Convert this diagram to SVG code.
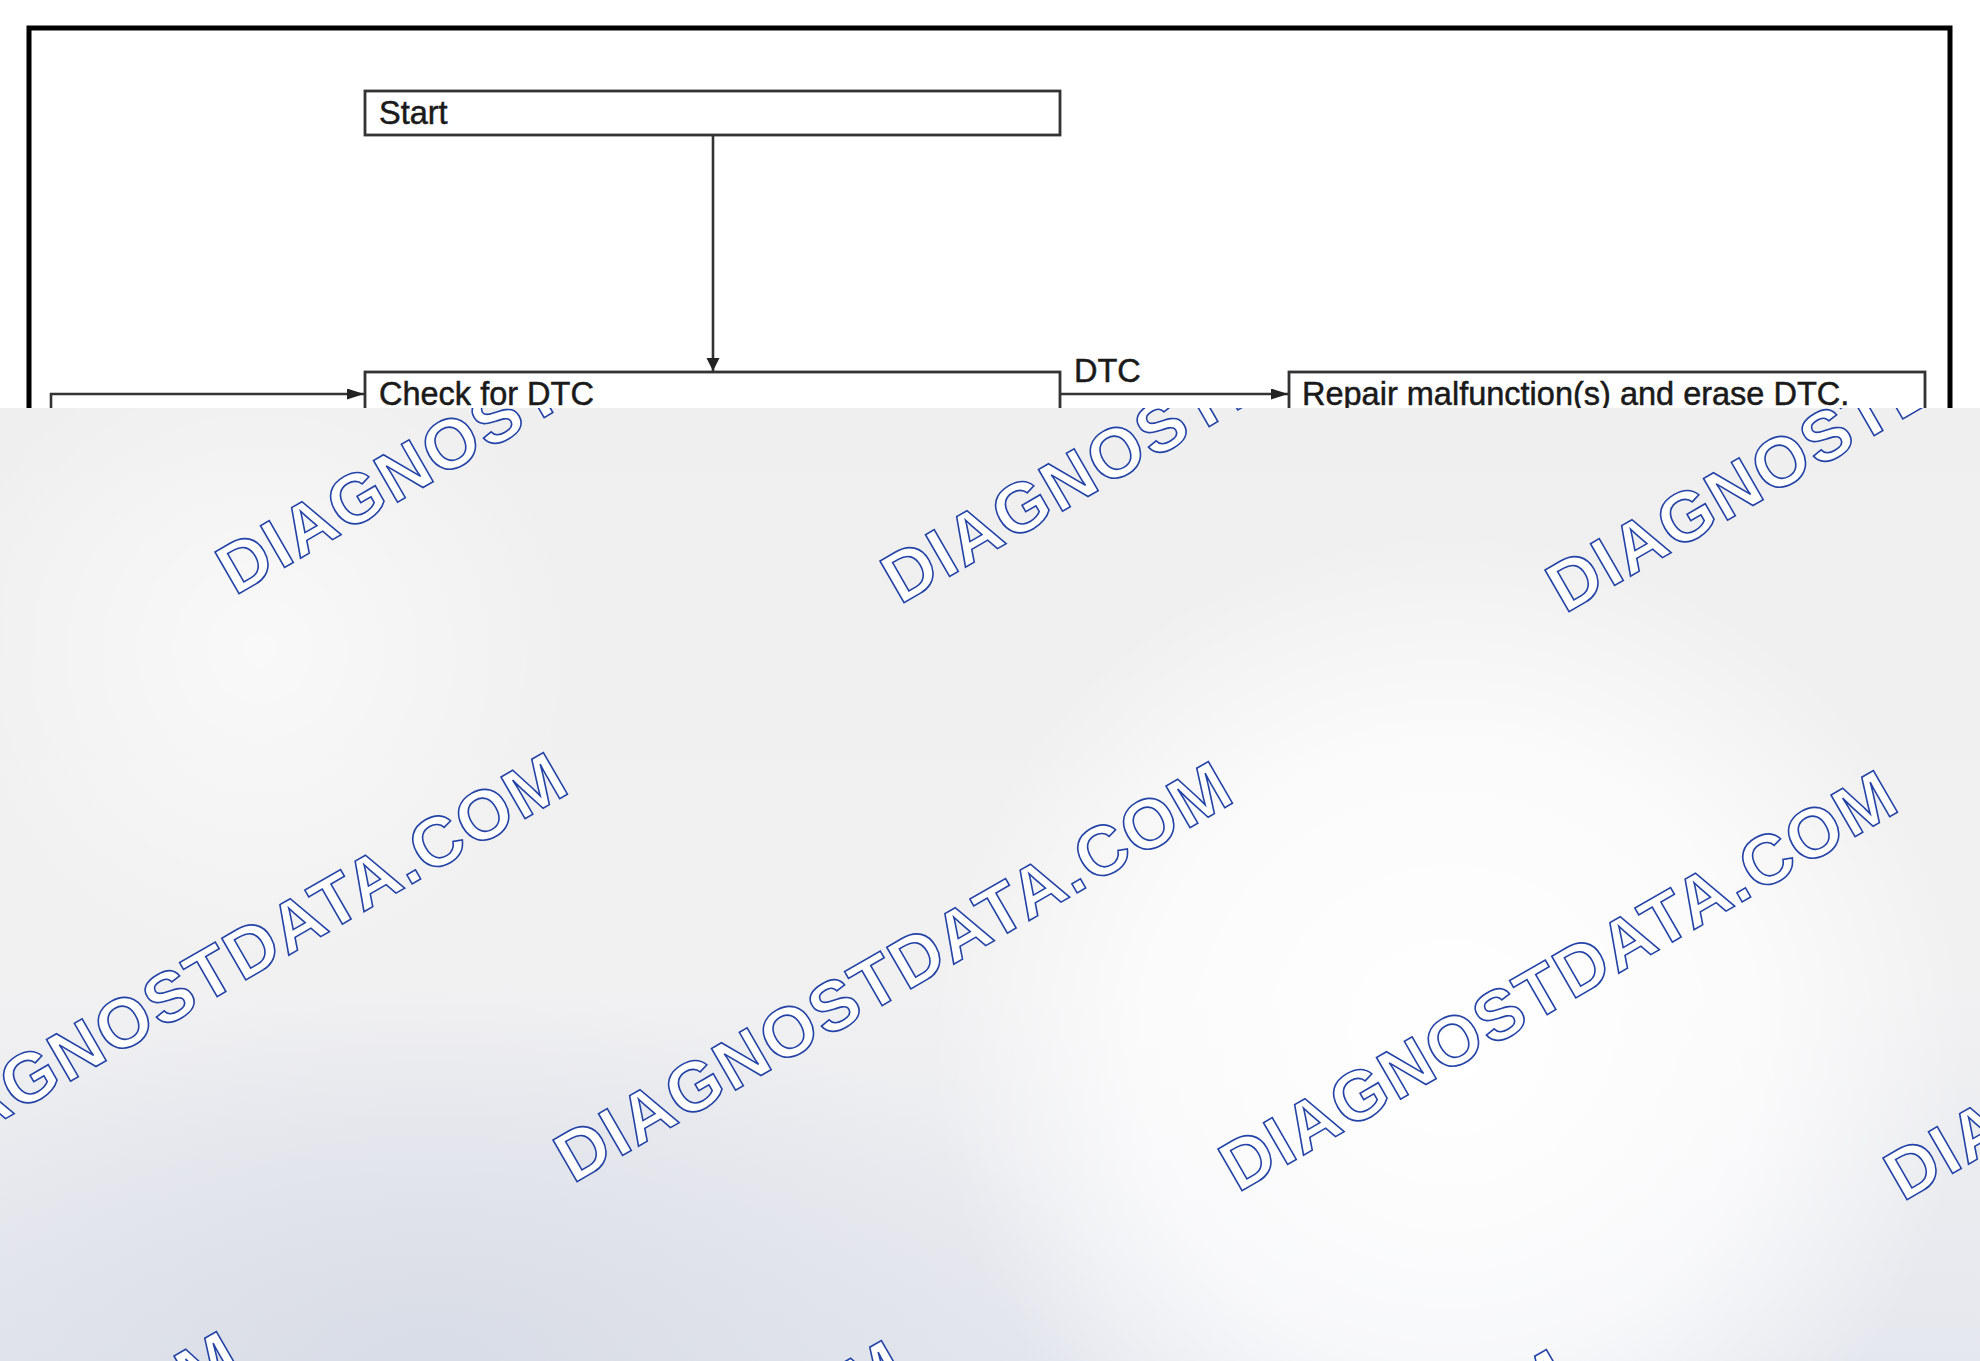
<svg xmlns="http://www.w3.org/2000/svg" width="1980" height="1361" viewBox="0 0 1980 1361">
  <defs>
    <style>
      .box { fill: #ffffff; stroke: #333333; stroke-width: 2.8; }
      .lbl { font-family: "Liberation Sans", Arial, sans-serif; font-size: 32.5px; fill: #1a1a1a; stroke: #1a1a1a; stroke-width: 0.5; }
      .conn { fill: none; stroke: #333333; stroke-width: 2.6; }
      .wm { font-family: "Liberation Sans", Arial, sans-serif; font-weight: bold; font-size: 70px; letter-spacing: 2px; fill: #ffffff; stroke: #2443a6; stroke-width: 1.6; }
    </style>
    <marker id="arrowV" viewBox="0 0 13 22" refX="13" refY="11" markerWidth="13" markerHeight="22" markerUnits="userSpaceOnUse" orient="auto">
      <path d="M0,4.5 L13,11 L0,17.5 Z" fill="#222222"/>
    </marker>
    <marker id="arrowH" viewBox="0 0 17 11" refX="17" refY="5.5" markerWidth="17" markerHeight="11" markerUnits="userSpaceOnUse" orient="auto">
      <path d="M0,0 L17,5.5 L0,11 Z" fill="#222222"/>
    </marker>
    <linearGradient id="bgLin" x1="0" y1="0" x2="0" y2="1">
      <stop offset="0" stop-color="#efefef"/>
      <stop offset="0.6" stop-color="#f1f1f2"/>
      <stop offset="1" stop-color="#e4e7ed"/>
    </linearGradient>
    <radialGradient id="whiteR" cx="1450" cy="1050" r="520" gradientUnits="userSpaceOnUse">
      <stop offset="0" stop-color="#ffffff" stop-opacity="1"/>
      <stop offset="0.6" stop-color="#ffffff" stop-opacity="0.7"/>
      <stop offset="1" stop-color="#ffffff" stop-opacity="0"/>
    </radialGradient>
    <radialGradient id="whiteL" cx="260" cy="650" r="320" gradientUnits="userSpaceOnUse">
      <stop offset="0" stop-color="#ffffff" stop-opacity="0.6"/>
      <stop offset="1" stop-color="#ffffff" stop-opacity="0"/>
    </radialGradient>
    <radialGradient id="blueB" cx="0" cy="0" r="1" gradientUnits="userSpaceOnUse" gradientTransform="translate(430,1370) scale(700,380)">
      <stop offset="0" stop-color="#d8dce6" stop-opacity="1"/>
      <stop offset="1" stop-color="#d8dce6" stop-opacity="0"/>
    </radialGradient>
    <clipPath id="ovClip">
      <rect x="0" y="408" width="1980" height="953"/>
    </clipPath>
  </defs>

  <rect x="0" y="0" width="1980" height="1361" fill="#ffffff"/>

  <g id="frame">
    <rect x="29" y="28" width="1921" height="1400" fill="none" stroke="#000000" stroke-width="5"/>
  </g>

  <g id="connectors">
    <line class="conn" x1="713" y1="135" x2="713" y2="371" marker-end="url(#arrowV)"/>
    <polyline class="conn" points="51,430 51,394 364,394" marker-end="url(#arrowH)"/>
    <line class="conn" x1="1060" y1="394" x2="1288" y2="394" marker-end="url(#arrowH)"/>
    <text class="lbl" x="1074" y="382" font-size="31">DTC</text>
  </g>

  <g id="node-start">
    <rect class="box" x="365" y="91" width="695" height="44"/>
    <text class="lbl" x="379" y="124">Start</text>
  </g>

  <g id="node-check">
    <rect class="box" x="365" y="372" width="695" height="44"/>
    <text class="lbl" x="379" y="405">Check for DTC</text>
  </g>

  <g id="node-repair">
    <rect class="box" x="1289" y="372" width="636" height="44"/>
    <text class="lbl" x="1302" y="405">Repair malfunction(s) and erase DTC.</text>
  </g>

  <g id="overlay">
    <rect x="0" y="408" width="1980" height="953" fill="url(#bgLin)"/>
    <rect x="0" y="408" width="1980" height="953" fill="url(#whiteR)"/>
    <rect x="0" y="408" width="1980" height="953" fill="url(#whiteL)"/>
    <rect x="0" y="408" width="1980" height="953" fill="url(#blueB)"/>
    <g clip-path="url(#ovClip)">
      <text class="wm" transform="translate(235,596) rotate(-30)">DIAGNOSTDATA.COM</text>
      <text class="wm" transform="translate(900,605) rotate(-30)">DIAGNOSTDATA.COM</text>
      <text class="wm" transform="translate(1565,614) rotate(-30)">DIAGNOSTDATA.COM</text>
      <text class="wm" transform="translate(-92,1175) rotate(-30)">DIAGNOSTDATA.COM</text>
      <text class="wm" transform="translate(573,1184) rotate(-30)">DIAGNOSTDATA.COM</text>
      <text class="wm" transform="translate(1238,1193) rotate(-30)">DIAGNOSTDATA.COM</text>
      <text class="wm" transform="translate(1903,1202) rotate(-30)">DIAGNOSTDATA.COM</text>
      <text class="wm" transform="translate(-419,1754) rotate(-30)">DIAGNOSTDATA.COM</text>
      <text class="wm" transform="translate(246,1763) rotate(-30)">DIAGNOSTDATA.COM</text>
      <text class="wm" transform="translate(911,1772) rotate(-30)">DIAGNOSTDATA.COM</text>
      <text class="wm" transform="translate(1576,1781) rotate(-30)">DIAGNOSTDATA.COM</text>
    </g>
  </g>
</svg>
